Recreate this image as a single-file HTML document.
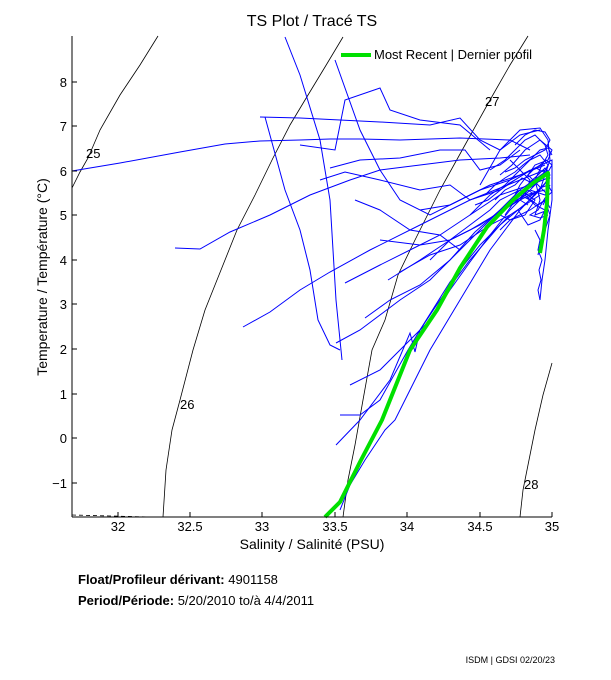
<!DOCTYPE html>
<html><head><meta charset="utf-8"><style>
body{margin:0;background:#fff;width:611px;height:675px;overflow:hidden;font-family:"Liberation Sans",sans-serif}
svg text{font-family:"Liberation Sans",sans-serif}
</style></head><body>
<svg width="611" height="675" viewBox="0 0 611 675" xmlns="http://www.w3.org/2000/svg">
<rect width="611" height="675" fill="#fff"/>
<text x="312" y="26" font-size="16" text-anchor="middle">TS Plot / Tracé TS</text>
<g fill="none" stroke="#000" stroke-width="0.8">
<polyline points="72,188 80,172 88,158 100,130 120,95 140,65 158,36"/>
<polyline points="163,517 166,470 172,430 180,400 193,350 205,310 217,280 237,230 255,195 273,158 290,125 305,100 325,67 343,37"/>
<polyline points="343,517 348,480 355,445 363,400 372,350 385,320 398,275 415,240 440,190 465,145 490,100 510,65 528,36"/>
<polyline points="520,517 523,490 528,465 535,430 543,395 552,363"/>
<polyline points="72,515 150,517" stroke-dasharray="4,3"/>
</g>
<g font-size="13">
<text x="86" y="158">25</text><text x="180" y="409">26</text><text x="485" y="106">27</text><text x="524" y="489">28</text>
</g>
<g fill="none" stroke="#0000ff" stroke-width="1">
<polyline points="72,171 120,163 180,152 225,144 260,141 300,140 330,139 360,139 400,140 460,138 510,140 530,150"/>
<polyline points="175,248 200,249 230,232 270,215 310,195 350,180 380,170 420,165 460,160 500,158 530,155"/>
<polyline points="243,327 270,312 300,290 330,272 370,250 420,225 470,200 520,180 545,170"/>
<polyline points="260,117 300,118 340,120 380,122 430,125 460,118 480,140 500,150 520,135 540,130"/>
<polyline points="300,145 335,150 345,100 380,88 390,110 420,120 460,125 490,150"/>
<polyline points="285,37 300,75 320,140 330,200 336,300 342,360"/>
<polyline points="265,117 285,190 300,230 310,270 318,320 330,345 340,350"/>
<polyline points="335,60 360,130 380,170 400,200 430,215 460,200 490,185 520,175 545,165"/>
<polyline points="336,343 360,330 400,300 430,280 460,250 490,220 520,190 548,170"/>
<polyline points="345,283 380,265 410,250 440,235 470,215 500,195 530,185 548,178"/>
<polyline points="350,385 380,370 405,345 430,320 450,290 470,262 490,235 510,210 530,190"/>
<polyline points="340,415 360,415 380,400 408,350 420,330 440,300 470,260 500,225 530,200"/>
<polyline points="336,445 360,420 390,380 410,333 415,352 420,330 450,282 480,245 510,215 540,195"/>
<polyline points="340,510 350,485 365,460 385,430 395,420 410,390 430,350 460,300 490,250 520,210 550,178"/>
<polyline points="330,168 360,160 400,158 440,150 465,150 480,170 500,165 520,150"/>
<polyline points="320,180 345,172 380,180 420,190 450,185 470,200 500,190 530,170"/>
<polyline points="355,200 380,210 410,230 440,235 460,250"/>
<polyline points="420,210 450,205 480,190 510,180 535,168 552,160 552,200 548,230 545,260 542,280 540,300"/>
<polyline points="380,240 420,245 450,240 480,225 510,205 540,190"/>
<polyline points="365,318 390,300 420,285 450,260 475,232 500,210 525,195 545,190"/>
<polyline points="480,185 500,150 520,130 540,128 548,140 550,160 545,175 540,190 530,200 520,195 510,205 500,215 510,220 530,210 545,200 550,215 545,230 540,245 538,255"/>
<polyline points="490,170 505,160 515,150 525,140 535,135 545,145 548,155 542,165 535,180 540,200 535,215 548,210"/>
<polyline points="430,260 450,240 470,225 490,210 500,200 520,190 535,200 525,215 510,220 500,230"/>
<polyline points="470,215 480,205 490,195 505,185 520,170 530,160 540,155 548,165 540,180 530,190 545,195 550,185"/>
<polyline points="510,160 520,170 530,180 525,195 535,205 545,210 540,220 528,225 518,210"/>
<polyline points="500,175 512,165 525,150 540,140 552,150 548,160 535,165 528,175 538,185 548,195 543,205"/>
<polyline points="388,280 420,260 450,240 470,230 495,215 520,200"/>
<polyline points="400,272 430,255 460,245 490,225 510,215"/>
<polyline points="495,200 505,190 515,185 522,178 530,182 538,175 545,168 550,175 544,185 536,192 528,198 538,205 546,200 550,208"/>
<polyline points="505,215 512,205 520,198 528,190 535,195 540,188 548,185 552,192 545,198 538,210 530,215 540,218 548,215"/>
<polyline points="515,195 520,185 527,176 533,170 540,165 546,160 552,165 548,172 540,178 533,186 526,190 520,200 528,205"/>
<polyline points="485,195 495,185 505,178 515,172 523,165 532,158 540,150 548,148 552,155"/>
<polyline points="475,205 488,200 498,192 508,184 518,178 528,172 536,168 544,172 550,178"/>
<polyline points="535,230 540,240 538,250 542,260 539,270 541,280 538,290 540,300"/>
<polyline points="515,145 525,135 535,130 545,132 550,140 545,150 535,155 525,160 515,168 505,172"/>
</g>
<polyline fill="none" stroke="#00e000" stroke-width="4" stroke-linejoin="round" points="325,517 340,502 360,462 382,420 410,350 437,310 460,268 487,227 513,200 533,183 548,173 547,203 544,230 540,253"/>
<g stroke="#000" stroke-width="1" fill="none">
<line x1="72" y1="36" x2="72" y2="517"/><line x1="72" y1="517" x2="552" y2="517"/>
<path d="M118,517v-5M190,517v-5M262,517v-5M335,517v-5M407,517v-5M480,517v-5M552,517v-5"/>
<path d="M72,483h5M72,438h5M72,394h5M72,349h5M72,304h5M72,260h5M72,215h5M72,171h5M72,126h5M72,82h5"/>
</g>
<g font-size="13" text-anchor="middle">
<text x="118" y="531">32</text><text x="190" y="531">32.5</text><text x="262" y="531">33</text><text x="335" y="531">33.5</text><text x="407" y="531">34</text><text x="480" y="531">34.5</text><text x="552" y="531">35</text>
</g>
<g font-size="13" text-anchor="end">
<text x="67" y="488">−1</text><text x="67" y="443">0</text><text x="67" y="399">1</text><text x="67" y="354">2</text><text x="67" y="309">3</text><text x="67" y="265">4</text><text x="67" y="220">5</text><text x="67" y="176">6</text><text x="67" y="131">7</text><text x="67" y="87">8</text>
</g>
<text x="312" y="549" font-size="14" text-anchor="middle">Salinity / Salinité (PSU)</text>
<text transform="translate(47,277) rotate(-90)" font-size="14" text-anchor="middle">Temperature / Température (°C)</text>
<line x1="341" y1="55" x2="371" y2="55" stroke="#00e000" stroke-width="4"/>
<text x="374" y="59" font-size="13">Most Recent | Dernier profil</text>
<g font-size="13">
<text x="78" y="584"><tspan font-weight="bold">Float/Profileur dérivant:</tspan> 4901158</text>
<text x="78" y="605"><tspan font-weight="bold">Period/Période:</tspan> 5/20/2010  to/à  4/4/2011</text>
</g>
<text x="555" y="663" font-size="9" text-anchor="end">ISDM | GDSI  02/20/23</text>
</svg>
</body></html>
